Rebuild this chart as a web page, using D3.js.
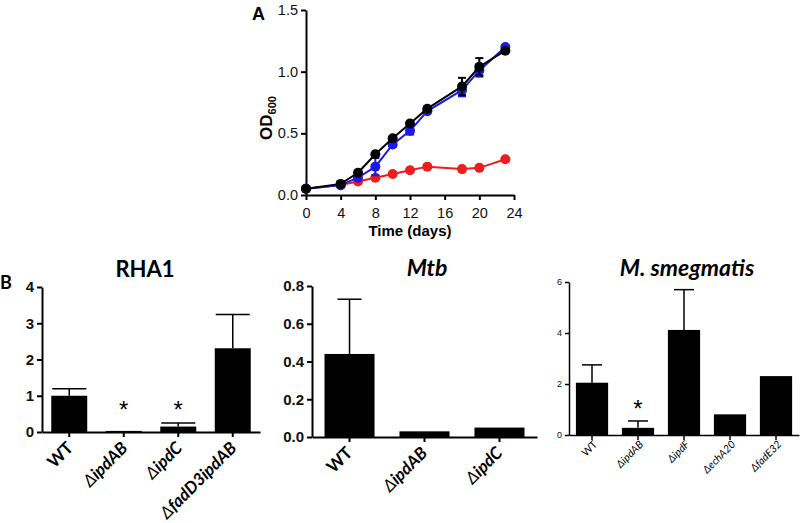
<!DOCTYPE html>
<html><head><meta charset="utf-8">
<script src="https://cdn.jsdelivr.net/npm/d3@7"></script>
<style>
body{margin:0;background:#fff;}
svg{display:block;font-family:"Liberation Sans",Arial,sans-serif;}
</style></head>
<body><svg id="c" width="800" height="523"></svg>
<script>
// ---------- Panel A data ----------
const days = [0,4,6,8,10,12,14,18,20,23];
const blackOD = [0.05,0.09,0.18,0.33,0.46,0.58,0.70,0.88,1.04,1.17];
const blackErr = [0,0,0.01,0.01,0.01,0.01,0.01,0.07,0.07,0.01];
const blueOD = [0.05,0.08,0.14,0.23,0.41,0.52,0.68,0.85,1.01,1.20];
const blueErr = [0,0,0.01,0.07,0.02,0.03,0.01,0.05,0.05,0.01];
const redOD = [0.05,0.08,0.11,0.14,0.17,0.20,0.23,0.21,0.22,0.29];
const redErr = [0,0,0,0,0,0,0,0,0,0];
const xTicksA = [0,4,8,12,16,20,24];
const yTicksA = [0,0.5,1.0,1.5];

// ---------- Panel B data ----------
const rhaCats = ["WT","ipdAB","ipdC","fadD3ipdAB"];
const rhaVals = [1.0,0.03,0.15,2.31];
const rhaErr = [0.19,0,0.10,0.93];
const rhaStar = [false,true,true,false];
const rhaTicks = [0,1,2,3,4];

const mtbCats = ["WT","ipdAB","ipdC"];
const mtbVals = [0.44,0.03,0.05];
const mtbErr = [0.29,0,0];
const mtbTicks = [0,0.2,0.4,0.6,0.8];

const smegCats = ["WT","ipdAB","ipdF","echA20","fadE32"];
const smegVals = [2.05,0.28,4.12,0.81,2.31];
const smegErr = [0.70,0.27,1.58,0,0];
const smegStar = [false,true,false,false,false];
const smegTicks = [0,2,4,6];

const svg = d3.select("#c");

// ================= Panel A =================
const xA = d3.scaleLinear().domain([0,24]).range([306,514]);
const yA = d3.scaleLinear().domain([0,1.5]).range([195,10]);
const gA = svg.append("g");
const axA = gA.append("g").attr("transform","translate(0,195)")
  .call(d3.axisBottom(xA).tickValues(xTicksA).tickSize(5).tickSizeOuter(0));
const ayA = gA.append("g").attr("transform","translate(306,0)")
  .call(d3.axisLeft(yA).tickValues(yTicksA).tickFormat(d3.format(".1f")).tickSize(5).tickSizeOuter(0));
[axA,ayA].forEach(a=>{
  a.select(".domain").attr("stroke","#000").attr("stroke-width",2);
  a.selectAll(".tick line").attr("stroke","#000").attr("stroke-width",2);
  a.selectAll("text").attr("font-size",14.5).attr("fill","#111").attr("font-family","Liberation Sans, Arial, sans-serif");
});
axA.selectAll("text").attr("dy","1.0em");
gA.append("text").attr("x",410).attr("y",236).attr("text-anchor","middle")
  .attr("font-size",15).attr("font-weight","bold").text("Time (days)");
const odl = gA.append("text").attr("transform","translate(272,118) rotate(-90)")
  .attr("text-anchor","middle").attr("font-size",17).attr("font-weight","bold");
odl.append("tspan").text("OD");
odl.append("tspan").attr("font-size",11).attr("dy",4).text("600");
gA.append("text").attr("x",252).attr("y",20).attr("font-size",18).attr("font-weight","bold").text("A");

const seriesA = [
  {vals:redOD, err:redErr, color:"#ee1c1c"},
  {vals:blueOD, err:blueErr, color:"#1a1aee"},
  {vals:blackOD, err:blackErr, color:"#000"}
];
const line = d3.line().x((d,i)=>xA(days[i])).y(d=>yA(d));
seriesA.forEach(s=>{
  const g = gA.append("g");
  g.append("path").datum(s.vals).attr("d",line).attr("fill","none")
    .attr("stroke",s.color).attr("stroke-width",2);
  s.vals.forEach((v,i)=>{
    if(s.err[i]>0.015){
      const x = xA(days[i]);
      g.append("line").attr("x1",x).attr("x2",x).attr("y1",yA(v-s.err[i])).attr("y2",yA(v+s.err[i]))
        .attr("stroke",s.color).attr("stroke-width",2);
      [v-s.err[i],v+s.err[i]].forEach(e=>g.append("line").attr("x1",x-4).attr("x2",x+4)
        .attr("y1",yA(e)).attr("y2",yA(e)).attr("stroke",s.color).attr("stroke-width",2));
    }
  });
  g.selectAll("circle").data(s.vals).enter().append("circle")
    .attr("cx",(d,i)=>xA(days[i])).attr("cy",d=>yA(d)).attr("r",5).attr("fill",s.color);
});

// ================= Panel B =================
function barPanel(o){
  const g = svg.append("g");
  const x = d3.scaleBand().domain(o.cats).range(o.xr).paddingInner(o.pi).paddingOuter(o.po);
  const y = d3.scaleLinear().domain(o.yd).range(o.yr);
  const ax = g.append("g").attr("transform",`translate(0,${o.yr[0]})`)
    .call(d3.axisBottom(x).tickSize(5).tickSizeOuter(0).tickFormat(""));
  const ay = g.append("g").attr("transform",`translate(${o.xr[0]},0)`)
    .call(d3.axisLeft(y).tickValues(o.ticks).tickFormat(o.fmt).tickSize(o.tickLen).tickSizeOuter(0));
  [ax,ay].forEach(a=>{
    a.select(".domain").attr("stroke","#000").attr("stroke-width",o.axw);
    a.selectAll(".tick line").attr("stroke","#000").attr("stroke-width",o.axw);
  });
  ay.selectAll("text").attr("font-size",o.tfs).attr("font-weight",o.tfw).attr("fill","#111")
    .attr("font-family","Liberation Sans, Arial, sans-serif").attr("x",-(o.tickLen+3));
  g.selectAll("rect.bar").data(o.vals).enter().append("rect")
    .attr("x",(d,i)=>x(o.cats[i])).attr("width",x.bandwidth())
    .attr("y",d=>y(d)).attr("height",d=>o.yr[0]-y(d)).attr("fill","#000");
  o.vals.forEach((v,i)=>{
    const cx = x(o.cats[i])+x.bandwidth()/2;
    if(o.err[i]>0){
      g.append("line").attr("x1",cx).attr("x2",cx).attr("y1",y(v)).attr("y2",y(v+o.err[i]))
        .attr("stroke","#000").attr("stroke-width",1.5);
      g.append("line").attr("x1",cx-o.cap).attr("x2",cx+o.cap).attr("y1",y(v+o.err[i])).attr("y2",y(v+o.err[i]))
        .attr("stroke","#000").attr("stroke-width",1.5);
    }
    if(o.star && o.star[i]){
      g.append("text").attr("x",cx).attr("y",o.starY).attr("text-anchor","middle")
        .attr("font-size",24).attr("fill","#000").attr("font-family","Liberation Sans, Arial, sans-serif").text("*");
    }
  });
  o.cats.forEach((c,i)=>{
    const cx = x(c)+x.bandwidth()/2;
    const t = g.append("text").attr("text-anchor","end")
      .attr("transform",`translate(${cx+o.lx},${o.yr[0]+o.ly}) rotate(-45)`)
      .attr("font-size",o.lfs).attr("font-weight",o.lfw).attr("font-family","Lato, Carlito, sans-serif");
    if(c==="WT"){ t.text("WT"); }
    else { t.append("tspan").attr("font-style","italic").attr("font-weight","normal").text("\u0394");
           t.append("tspan").attr("font-style","italic").text(c); }
  });
  const tt = g.append("text").attr("x",o.tx).attr("y",o.ty).attr("text-anchor","middle")
    .attr("font-size",o.tts).attr("font-weight","bold").attr("font-family","Lato, sans-serif").text(o.title);
  if(o.italic) tt.attr("font-style","italic");
  return g;
}

barPanel({cats:rhaCats, vals:rhaVals, err:rhaErr, star:rhaStar, starY:418, ticks:rhaTicks,
  xr:[42,260], pi:0.34, po:0.17, yd:[0,4], yr:[432,287], fmt:d3.format("d"), tickLen:5,
  axw:2, tfs:15, tfw:"bold", cap:17, lfs:17, lfw:"bold", lx:5, ly:17,
  title:"RHA1", tx:145, ty:277, tts:22, italic:false});

barPanel({cats:mtbCats, vals:mtbVals, err:mtbErr, ticks:mtbTicks,
  xr:[312,537], pi:0.333, po:0.167, yd:[0,0.8], yr:[437,286], fmt:d3.format(".1f"), tickLen:5,
  axw:2, tfs:15, tfw:"bold", cap:12, lfs:17, lfw:"bold", lx:4, ly:17,
  title:"Mtb", tx:427, ty:276, tts:23, italic:true});

barPanel({cats:smegCats, vals:smegVals, err:smegErr, star:smegStar, starY:417, ticks:smegTicks,
  xr:[569,799], pi:0.30, po:0.15, yd:[0,6], yr:[435,282], fmt:d3.format("d"), tickLen:4,
  axw:1.5, tfs:9, tfw:"normal", cap:10, lfs:10.5, lfw:"normal", lx:6, ly:10,
  title:"M. smegmatis", tx:687, ty:276, tts:23, italic:true});

svg.append("text").attr("x",0).attr("y",289).attr("font-size",18).attr("font-weight","bold")
  .attr("font-family","Lato, sans-serif").text("B");
</script></body></html>
